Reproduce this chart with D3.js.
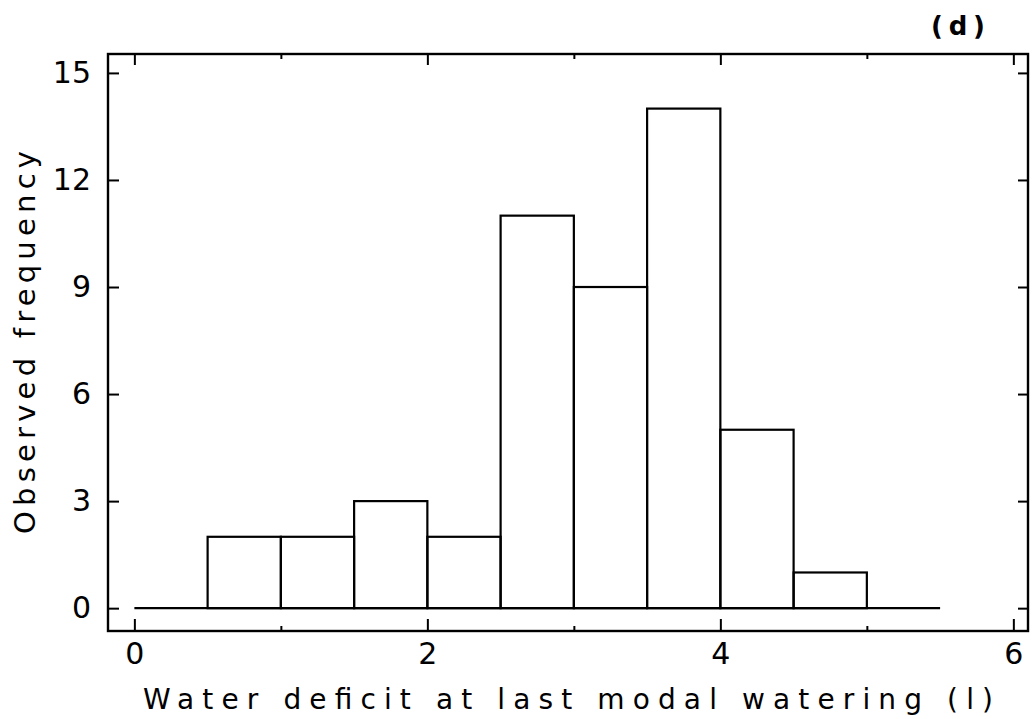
<!DOCTYPE html>
<html>
<head>
<meta charset="utf-8">
<script src="https://cdn.jsdelivr.net/npm/d3@7"></script>
<style>
  body { margin: 0; background: #fff; }
  text { font-family: "DejaVu Sans", sans-serif; fill: #000; }
</style>
</head>
<body>
<div id="canvas"></div>
<script>
"use strict"

/* Data: histogram bins (lower edge, width 0.5) and observed counts */
let binStarts = [0, 0.5, 1, 1.5, 2, 2.5, 3, 3.5, 4, 4.5, 5];
let counts = [0, 2, 2, 3, 2, 11, 9, 14, 5, 1, 0];
let binWidth = 0.5;
let xTicks = [0, 2, 4, 6];
let xMinorTicks = [1, 3, 5];
let yTicks = [0, 3, 6, 9, 12, 15];

/* Drawing configuration */
let svgWidth = 1035;
let svgHeight = 719;
let frame = { left: 108, right: 1028, top: 54, bottom: 631 };

let svg = d3.select("#canvas")
    .append("svg")
    .attr("width", svgWidth)
    .attr("height", svgHeight);

let x = d3.scaleLinear()
    .domain([-0.18, 6.1])
    .range([frame.left, frame.right]);

let y = d3.scaleLinear()
    .domain([-0.64, 15.53])
    .range([frame.bottom, frame.top]);

/* bars as open rectangles */
svg.selectAll("rect.bar")
    .data(binStarts.map(function (b, i) { return { x0: b, n: counts[i] }; }))
    .join("rect")
    .attr("class", "bar")
    .attr("x", d => x(d.x0))
    .attr("y", d => y(d.n))
    .attr("width", d => x(d.x0 + binWidth) - x(d.x0))
    .attr("height", d => y(0) - y(d.n))
    .attr("fill", "none")
    .attr("stroke", "black")
    .attr("stroke-width", 2.2);

/* baseline across all bins */
svg.append("line")
    .attr("x1", x(binStarts[0]))
    .attr("x2", x(binStarts[binStarts.length - 1] + binWidth))
    .attr("y1", y(0))
    .attr("y2", y(0))
    .attr("stroke", "black")
    .attr("stroke-width", 2.2);

/* axes with inward ticks */
function styleAxis(g) {
    g.select(".domain").remove();
    g.selectAll(".tick line").attr("stroke", "black").attr("stroke-width", 2);
    g.selectAll(".tick text")
        .style("font-family", "'DejaVu Sans', sans-serif")
        .style("font-size", "30px")
        .attr("fill", "black");
}

let fmt = d3.format("d");

svg.append("g")
    .attr("transform", "translate(0," + frame.bottom + ")")
    .call(d3.axisBottom(x).tickValues(xTicks).tickSize(-12).tickPadding(12).tickFormat(fmt))
    .call(styleAxis);

svg.append("g")
    .attr("transform", "translate(0," + frame.bottom + ")")
    .call(d3.axisBottom(x).tickValues(xMinorTicks).tickSize(-5).tickFormat(""))
    .call(styleAxis);

svg.append("g")
    .attr("transform", "translate(0," + frame.top + ")")
    .call(d3.axisTop(x).tickValues(xTicks).tickSize(-11).tickFormat(""))
    .call(styleAxis);

svg.append("g")
    .attr("transform", "translate(0," + frame.top + ")")
    .call(d3.axisTop(x).tickValues(xMinorTicks).tickSize(-5).tickFormat(""))
    .call(styleAxis);

svg.append("g")
    .attr("transform", "translate(" + frame.left + ",0)")
    .call(d3.axisLeft(y).tickValues(yTicks).tickSize(-11).tickPadding(17).tickFormat(fmt))
    .call(styleAxis);

svg.append("g")
    .attr("transform", "translate(" + frame.right + ",0)")
    .call(d3.axisRight(y).tickValues(yTicks).tickSize(-10).tickFormat(""))
    .call(styleAxis);

/* frame */
svg.append("rect")
    .attr("x", frame.left)
    .attr("y", frame.top)
    .attr("width", frame.right - frame.left)
    .attr("height", frame.bottom - frame.top)
    .attr("fill", "none")
    .attr("stroke", "black")
    .attr("stroke-width", 2.4);

/* axis titles */
svg.append("text")
    .attr("x", 143)
    .attr("y", 709)
    .attr("textLength", 850)
    .attr("lengthAdjust", "spacing")
    .style("font-size", "28px")
    .text("Water deficit at last modal watering (l)");

svg.append("text")
    .attr("transform", "translate(35,534) rotate(-90)")
    .attr("textLength", 383)
    .attr("lengthAdjust", "spacing")
    .style("font-size", "29px")
    .text("Observed frequency");

/* panel label */
svg.append("text")
    .attr("x", 931)
    .attr("y", 35)
    .attr("textLength", 54)
    .attr("lengthAdjust", "spacing")
    .style("font-size", "26px")
    .style("font-weight", "bold")
    .text("(d)");
</script>
</body>
</html>
